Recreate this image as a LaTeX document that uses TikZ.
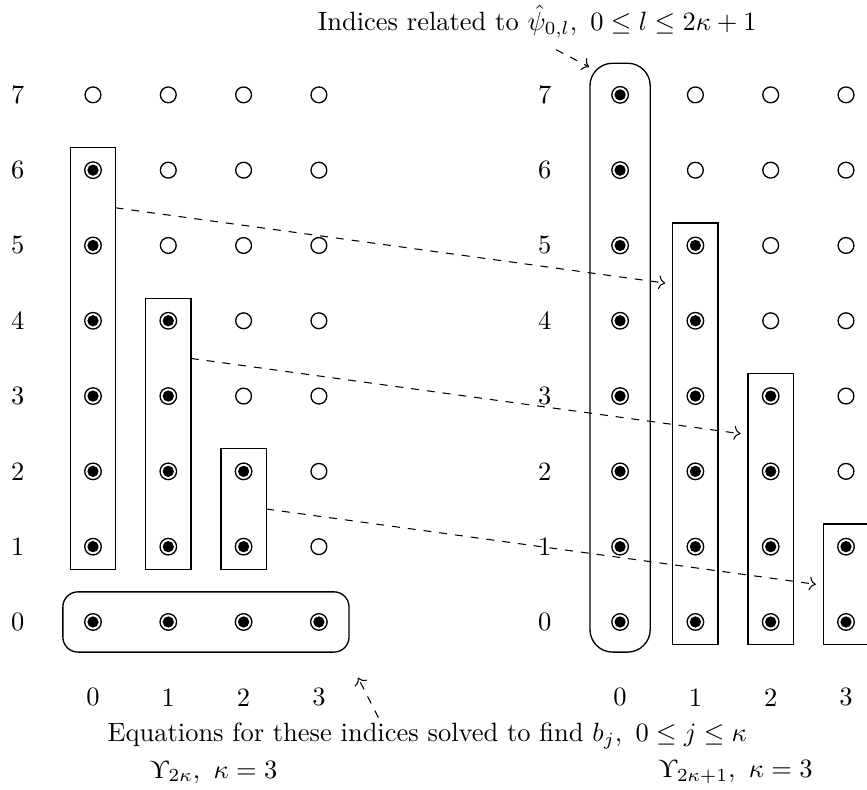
\documentclass[tikz,border=0pt]{standalone}
\usepackage{fontspec}
\newfontfamily\upsfont{Liberation Serif}
\usetikzlibrary{arrows.meta}
\tikzset{
  opendot/.style={circle,draw,inner sep=0pt,minimum size=0.21cm,line width=0.5pt},
  fulldot/.style={circle,draw,inner sep=0pt,minimum size=0.22cm,line width=0.5pt,
    path picture={\fill (path picture bounding box.center) circle (0.075cm);}},
  grp/.style={draw,line width=0.5pt},
  link/.style={dashed,->,line width=0.4pt},
  lbl/.style={inner sep=0pt}
}
\begin{document}
\begin{tikzpicture}
\useasboundingbox (-1.235,-2.231) rectangle (10.279,8.260);
% row labels
\foreach \r in {0,...,7}{
  \node[lbl] (Lr\r) at (-1,\r) {\r};
  \node[lbl] (Rr\r) at (6,\r) {\r};
}
\foreach \c in {0,...,3}{
  \node[lbl] (Lc\c) at (\c,-1) {\c};
  \node[lbl] (Rc\c) at (7+\c,-1) {\c};
}
% left grid
\foreach \c/\m in {0/6,1/4,2/2,3/0}{
  \foreach \r in {0,...,7}{
    \ifnum\r>\m
      \node[opendot] (L\c-\r) at (\c,\r) {};
    \else
      \node[fulldot] (L\c-\r) at (\c,\r) {};
    \fi
  }
}
% right grid
\foreach \c/\m in {0/7,1/5,2/3,3/1}{
  \foreach \r in {0,...,7}{
    \ifnum\r>\m
      \node[opendot] (R\c-\r) at (7+\c,\r) {};
    \else
      \node[fulldot] (R\c-\r) at (7+\c,\r) {};
    \fi
  }
}
% left boxes
\draw[grp] (-0.3,0.7) rectangle (0.3,6.3);
\draw[grp] (0.7,0.7) rectangle (1.3,4.3);
\draw[grp] (1.7,0.7) rectangle (2.3,2.3);
\draw[grp,rounded corners=0.2cm] (-0.4,-0.4) rectangle (3.4,0.4);
% right boxes
\draw[grp,rounded corners=0.3cm] (6.6,-0.4) rectangle (7.4,7.42);
\draw[grp] (7.7,-0.3) rectangle (8.3,5.3);
\draw[grp] (8.7,-0.3) rectangle (9.3,3.3);
\draw[grp] (9.7,-0.3) rectangle (10.3,1.3);
% arrow ends
\coordinate (s0) at (0.3,5.5);
\coordinate (e0) at (7.6,4.5);
\coordinate (s1) at (1.3,3.5);
\coordinate (e1) at (8.6,2.5);
\coordinate (s2) at (2.3,1.5);
\coordinate (e2) at (9.6,0.5);
\draw[link] (s0) -- (e0);
\draw[link] (s1) -- (e1);
\draw[link] (s2) -- (e2);
% labels
\node (top) at (5.9,7.97) {Indices related to $\hat{\psi}_{0,l},\ 0\le l\le 2\kappa+1$};
\coordinate (topS) at (6.15,7.6);
\coordinate (topE) at (6.59,7.37);
\draw[link] (topS) -- (topE);
\node (bot) at (4.44,-1.51) {Equations for these indices solved to find $b_j,\ 0\le j\le \kappa$};
\coordinate (botS) at (3.79,-1.27);
\coordinate (botE) at (3.52,-0.74);
\draw[link] (botS) -- (botE);
\node (capL) at (1.6,-1.99) {{\upsfont ϒ}$_{2\kappa},\ \kappa=3$};
\node (capR) at (8.53,-1.99) {{\upsfont ϒ}$_{2\kappa+1},\ \kappa=3$};
\end{tikzpicture}
\end{document}
